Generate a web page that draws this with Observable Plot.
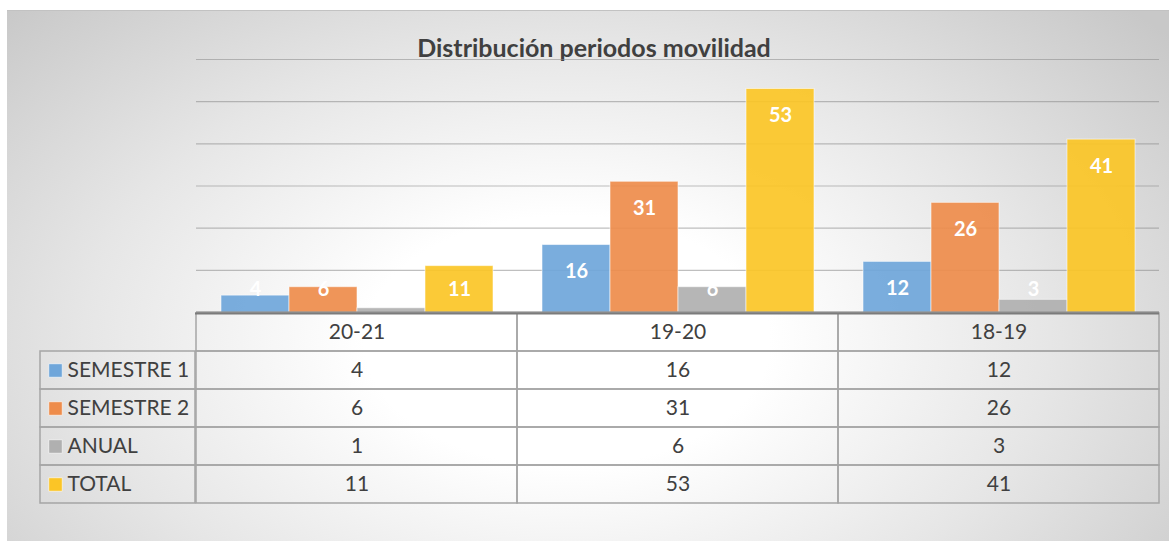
<!DOCTYPE html>
<html>
<head>
<meta charset="utf-8">
<script src="https://cdn.jsdelivr.net/npm/d3@7"></script>
<script src="https://cdn.jsdelivr.net/npm/@observablehq/plot@0.6"></script>
<style>
  html, body { margin: 0; padding: 0; }
  body { width: 1169px; height: 541px; overflow: hidden; position: relative; background: #fff; font-family: Lato, "Open Sans", sans-serif; }
  #bg { position: absolute; left: 7px; top: 10px; width: 1162px; height: 531px;
        background: radial-gradient(ellipse 780px 480px at 560px 330px, #ffffff 0%, #ffffff 26%, #e6e6e6 62%, #c8c8c8 100%);
        border-top: 1px solid #c2c2c2; box-sizing: border-box; }
  #title { position: absolute; top: 32px; left: 594px; transform: translateX(-50%); white-space: nowrap;
           font: bold 25px Lato, sans-serif; color: #404040; line-height: 30px; }
  .layer { position: absolute; left: 0; }
  .layer svg { overflow: visible; }
</style>
</head>
<body>
<div id="bg"></div>
<div id="title">Distribución periodos movilidad</div>
<div id="chart" class="layer" style="top:0"></div>
<div id="table" class="layer" style="top:300px"></div>
<div id="labels" class="layer" style="top:300px"></div>
<script>
// ---- data ----
const periods = ["20-21", "19-20", "18-19"];
const series = ["SEMESTRE 1", "SEMESTRE 2", "ANUAL", "TOTAL"];
const semestre1 = [4, 16, 12];
const semestre2 = [6, 31, 26];
const anual = [1, 6, 3];
const total = [11, 53, 41];
const gridTicks = [10, 20, 30, 40, 50, 60];
const colors = ["#6fa6da", "#ee8c4b", "#b0b0b0", "#fbc526"];

const valuesBySeries = [semestre1, semestre2, anual, total];
const rows = series.flatMap((s, i) => periods.map((p, j) => ({period: p, series: s, value: valuesBySeries[i][j]})));
const tableDomain = ["header", ...series];
const font = "Lato, sans-serif";

// ---- bar chart ----
const chart = Plot.plot({
  width: 1169, height: 314,
  marginLeft: 195, marginRight: 10, marginTop: 59, marginBottom: 2,
  style: {background: "transparent", fontFamily: font},
  fx: {domain: periods, padding: 0, axis: null},
  x: {domain: series, paddingInner: 0, paddingOuter: 0.345, axis: null},
  y: {domain: [0, 60], axis: null},
  color: {domain: series, range: colors},
  marks: [
    Plot.ruleY(gridTicks, {stroke: "#8a8a8a", strokeOpacity: 0.55, strokeWidth: 1.2}),
    Plot.barY(rows, {fx: "period", x: "series", y: "value", fill: "series", fillOpacity: 0.92,
                     stroke: "#ffffff", strokeOpacity: 0.55, strokeWidth: 1, inset: 0}),
    // Excel "inside end" labels, kept above the axis for short bars
    Plot.text(rows, {fx: "period", x: "series", y: d => Math.max(d.value, 11.8), dy: 27, text: "value",
                     fill: "white", fontWeight: "bold", fontSize: 20}),
    Plot.ruleY([0], {stroke: "#7b7b7b", strokeWidth: 2})
  ]
});
document.getElementById("chart").append(chart);

// ---- data table ----
const table = Plot.plot({
  width: 1169, height: 241,
  marginLeft: 195, marginRight: 10, marginTop: 12, marginBottom: 37,
  style: {background: "transparent", fontFamily: font, color: "#404040"},
  x: {domain: periods, padding: 0, axis: null},
  y: {domain: tableDomain, padding: 0, axis: null},
  marks: [
    Plot.cell(periods, {x: d => d, y: () => "header", fill: "none", stroke: "#a5a5a5", strokeWidth: 1.5, inset: 0}),
    Plot.cell(rows, {x: "period", y: "series", fill: "none", stroke: "#a5a5a5", strokeWidth: 1.5, inset: 0}),
    Plot.text(periods, {x: d => d, y: () => "header", text: d => d, fill: "#404040", fontSize: 21}),
    Plot.text(rows, {x: "period", y: "series", text: "value", fill: "#404040", fontSize: 21}),
    Plot.ruleY([0], {y: () => "header", dy: -19, stroke: "#7b7b7b", strokeWidth: 2})
  ]
});
document.getElementById("table").append(table);

// ---- row labels (legend column) ----
const labels = Plot.plot({
  width: 197, height: 241,
  marginLeft: 40, marginRight: 2, marginTop: 12, marginBottom: 37,
  style: {background: "transparent", fontFamily: font, overflow: "visible"},
  x: {domain: ["label"], padding: 0, axis: null},
  y: {domain: tableDomain, padding: 0, axis: null},
  color: {domain: series, range: colors},
  marks: [
    Plot.cell(series, {x: () => "label", y: d => d, fill: "none", stroke: "#a5a5a5", strokeWidth: 1.5, inset: 0}),
    Plot.dot(series, {y: d => d, frameAnchor: "left", dx: 15, symbol: "square", r: 7.6, fill: d => d,
                      stroke: "#ffffff", strokeOpacity: 0.6, strokeWidth: 1}),
    Plot.text(series, {y: d => d, frameAnchor: "left", dx: 27, textAnchor: "start", text: d => d,
                       fill: "#404040", fontSize: 21})
  ]
});
document.getElementById("labels").append(labels);
</script>
</body>
</html>
